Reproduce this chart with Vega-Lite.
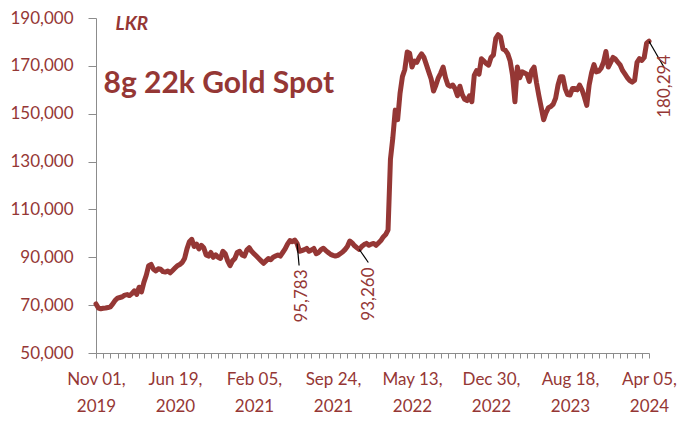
{
  "$schema": "https://vega.github.io/schema/vega-lite/v6.json",
  "width": 553,
  "height": 335,
  "autosize": "none",
  "padding": {"left": 96, "top": 18, "right": 34, "bottom": 68},
  "background": "white",
  "config": {"view": {"stroke": null}, "font": "Lato"},
  "data": {"values": [
    {"d":"2019-11-01","v":70500},{"d":"2019-11-08","v":68800},{"d":"2019-11-15","v":68500},{"d":"2019-11-22","v":68700},{"d":"2019-11-29","v":68800},
    {"d":"2019-12-06","v":69000},{"d":"2019-12-13","v":69300},{"d":"2019-12-20","v":70500},{"d":"2019-12-27","v":72000},
    {"d":"2020-01-03","v":72900},{"d":"2020-01-10","v":73200},{"d":"2020-01-17","v":73500},{"d":"2020-01-24","v":74200},{"d":"2020-01-31","v":74400},
    {"d":"2020-02-07","v":74000},{"d":"2020-02-14","v":74800},{"d":"2020-02-21","v":76000},{"d":"2020-02-28","v":74500},
    {"d":"2020-03-06","v":77500},{"d":"2020-03-13","v":75500},{"d":"2020-03-20","v":79500},{"d":"2020-03-27","v":82500},
    {"d":"2020-04-03","v":86500},{"d":"2020-04-10","v":87000},{"d":"2020-04-17","v":85000},{"d":"2020-04-24","v":84300},
    {"d":"2020-05-01","v":85200},{"d":"2020-05-08","v":85000},{"d":"2020-05-15","v":84000},{"d":"2020-05-22","v":83800},{"d":"2020-05-29","v":84300},
    {"d":"2020-06-05","v":83500},{"d":"2020-06-12","v":84500},{"d":"2020-06-19","v":85500},{"d":"2020-06-26","v":86500},
    {"d":"2020-07-03","v":87000},{"d":"2020-07-10","v":87800},{"d":"2020-07-17","v":89500},{"d":"2020-07-24","v":93500},{"d":"2020-07-31","v":96500},
    {"d":"2020-08-07","v":97500},{"d":"2020-08-14","v":94500},{"d":"2020-08-21","v":95500},{"d":"2020-08-28","v":93500},
    {"d":"2020-09-04","v":95000},{"d":"2020-09-11","v":94000},{"d":"2020-09-18","v":91000},{"d":"2020-09-25","v":90500},
    {"d":"2020-10-02","v":92000},{"d":"2020-10-09","v":90000},{"d":"2020-10-16","v":91000},{"d":"2020-10-23","v":90000},{"d":"2020-10-30","v":89500},
    {"d":"2020-11-06","v":92500},{"d":"2020-11-13","v":91500},{"d":"2020-11-20","v":88500},{"d":"2020-11-27","v":86500},
    {"d":"2020-12-04","v":88500},{"d":"2020-12-11","v":89500},{"d":"2020-12-18","v":92000},{"d":"2020-12-25","v":92500},
    {"d":"2021-01-01","v":91000},{"d":"2021-01-08","v":90500},{"d":"2021-01-15","v":93000},{"d":"2021-01-22","v":94000},{"d":"2021-01-29","v":92500},
    {"d":"2021-02-05","v":91500},{"d":"2021-02-12","v":90500},{"d":"2021-02-19","v":89500},{"d":"2021-02-26","v":88500},
    {"d":"2021-03-05","v":87500},{"d":"2021-03-12","v":88500},{"d":"2021-03-19","v":89500},{"d":"2021-03-26","v":89000},
    {"d":"2021-04-02","v":90000},{"d":"2021-04-09","v":90500},{"d":"2021-04-16","v":91000},{"d":"2021-04-23","v":90500},{"d":"2021-04-30","v":92000},
    {"d":"2021-05-07","v":93500},{"d":"2021-05-14","v":95500},{"d":"2021-05-21","v":97000},{"d":"2021-05-28","v":96500},
    {"d":"2021-06-04","v":97200},{"d":"2021-06-11","v":95783},{"d":"2021-06-18","v":92500},{"d":"2021-06-25","v":92800},
    {"d":"2021-07-02","v":93200},{"d":"2021-07-09","v":93700},{"d":"2021-07-16","v":92500},{"d":"2021-07-23","v":93000},{"d":"2021-07-30","v":93700},
    {"d":"2021-08-06","v":91500},{"d":"2021-08-13","v":92000},{"d":"2021-08-20","v":93200},{"d":"2021-08-27","v":93800},
    {"d":"2021-09-03","v":92800},{"d":"2021-09-10","v":92000},{"d":"2021-09-17","v":91200},{"d":"2021-09-24","v":90800},
    {"d":"2021-10-01","v":90500},{"d":"2021-10-08","v":90800},{"d":"2021-10-15","v":91500},{"d":"2021-10-22","v":92200},{"d":"2021-10-29","v":93200},
    {"d":"2021-11-05","v":94500},{"d":"2021-11-12","v":96800},{"d":"2021-11-19","v":96000},{"d":"2021-11-26","v":94800},
    {"d":"2021-12-03","v":94000},{"d":"2021-12-10","v":93260},{"d":"2021-12-17","v":94500},{"d":"2021-12-24","v":95300},{"d":"2021-12-31","v":95800},
    {"d":"2022-01-07","v":95000},{"d":"2022-01-14","v":95500},{"d":"2022-01-21","v":95800},{"d":"2022-01-28","v":95000},
    {"d":"2022-02-04","v":96000},{"d":"2022-02-11","v":97000},{"d":"2022-02-18","v":98500},{"d":"2022-02-25","v":99500},
    {"d":"2022-03-04","v":101500},{"d":"2022-03-11","v":131000},{"d":"2022-03-18","v":140000},{"d":"2022-03-25","v":151500},
    {"d":"2022-04-01","v":147500},{"d":"2022-04-08","v":158500},{"d":"2022-04-15","v":165500},{"d":"2022-04-22","v":168500},{"d":"2022-04-29","v":175800},
    {"d":"2022-05-06","v":175300},{"d":"2022-05-13","v":169500},{"d":"2022-05-20","v":172000},{"d":"2022-05-27","v":171500},
    {"d":"2022-06-03","v":173500},{"d":"2022-06-10","v":175000},{"d":"2022-06-17","v":173500},{"d":"2022-06-24","v":170500},
    {"d":"2022-07-01","v":167500},{"d":"2022-07-08","v":164500},{"d":"2022-07-15","v":159500},{"d":"2022-07-22","v":162000},{"d":"2022-07-29","v":165000},
    {"d":"2022-08-05","v":167000},{"d":"2022-08-12","v":169500},{"d":"2022-08-19","v":165000},{"d":"2022-08-26","v":162000},
    {"d":"2022-09-02","v":161500},{"d":"2022-09-09","v":162000},{"d":"2022-09-16","v":160500},{"d":"2022-09-23","v":157500},{"d":"2022-09-30","v":161500},
    {"d":"2022-10-07","v":158000},{"d":"2022-10-14","v":156000},{"d":"2022-10-21","v":155500},{"d":"2022-10-28","v":157500},
    {"d":"2022-11-04","v":155000},{"d":"2022-11-11","v":166000},{"d":"2022-11-18","v":168000},{"d":"2022-11-25","v":166500},
    {"d":"2022-12-02","v":173000},{"d":"2022-12-09","v":172000},{"d":"2022-12-16","v":171000},{"d":"2022-12-23","v":170300},{"d":"2022-12-30","v":173500},
    {"d":"2023-01-06","v":174500},{"d":"2023-01-13","v":181500},{"d":"2023-01-20","v":183000},{"d":"2023-01-27","v":182000},
    {"d":"2023-02-03","v":177000},{"d":"2023-02-10","v":176500},{"d":"2023-02-17","v":175000},{"d":"2023-02-24","v":172000},
    {"d":"2023-03-03","v":166000},{"d":"2023-03-10","v":155000},{"d":"2023-03-17","v":169500},{"d":"2023-03-24","v":165000},{"d":"2023-03-31","v":167500},
    {"d":"2023-04-07","v":167000},{"d":"2023-04-14","v":166500},{"d":"2023-04-21","v":163500},{"d":"2023-04-28","v":168000},
    {"d":"2023-05-05","v":169500},{"d":"2023-05-12","v":163000},{"d":"2023-05-19","v":157500},{"d":"2023-05-26","v":152500},
    {"d":"2023-06-02","v":147500},{"d":"2023-06-09","v":150500},{"d":"2023-06-16","v":152500},{"d":"2023-06-23","v":153000},{"d":"2023-06-30","v":154000},
    {"d":"2023-07-07","v":156500},{"d":"2023-07-14","v":162000},{"d":"2023-07-21","v":165500},{"d":"2023-07-28","v":165500},
    {"d":"2023-08-04","v":160500},{"d":"2023-08-11","v":158000},{"d":"2023-08-18","v":157800},{"d":"2023-08-25","v":160500},
    {"d":"2023-09-01","v":160500},{"d":"2023-09-08","v":160000},{"d":"2023-09-15","v":162000},{"d":"2023-09-22","v":160000},{"d":"2023-09-29","v":157000},
    {"d":"2023-10-06","v":153500},{"d":"2023-10-13","v":162000},{"d":"2023-10-20","v":167000},{"d":"2023-10-27","v":170500},
    {"d":"2023-11-03","v":167500},{"d":"2023-11-10","v":167800},{"d":"2023-11-17","v":169000},{"d":"2023-11-24","v":171500},
    {"d":"2023-12-01","v":176000},{"d":"2023-12-08","v":169500},{"d":"2023-12-15","v":171500},{"d":"2023-12-22","v":173500},{"d":"2023-12-29","v":172800},
    {"d":"2024-01-05","v":171500},{"d":"2024-01-12","v":170300},{"d":"2024-01-19","v":168000},{"d":"2024-01-26","v":166500},
    {"d":"2024-02-02","v":165000},{"d":"2024-02-09","v":163800},{"d":"2024-02-16","v":163200},{"d":"2024-02-23","v":164000},
    {"d":"2024-03-01","v":171500},{"d":"2024-03-08","v":173000},{"d":"2024-03-15","v":172300},{"d":"2024-03-22","v":173500},{"d":"2024-03-29","v":179500},
    {"d":"2024-04-05","v":180294}
  ]},
  "encoding": {
    "x": {
      "field": "d", "type": "temporal",
      "scale": {"type": "utc", "domain": [{"year": 2019, "month": 11, "date": 1, "utc": true}, {"year": 2024, "month": 4, "date": 5, "utc": true}]},
      "axis": {
        "values": [1572566400000,1574380800000,1576195200000,1578009600000,1579824000000,1581638400000,1583452800000,1585267200000,1587081600000,1588896000000,1590710400000,1592524800000,1594339200000,1596153600000,1597968000000,1599782400000,1601596800000,1603411200000,1605225600000,1607040000000,1608854400000,1610668800000,1612483200000,1614297600000,1616112000000,1617926400000,1619740800000,1621555200000,1623369600000,1625184000000,1626998400000,1628812800000,1630627200000,1632441600000,1634256000000,1636070400000,1637884800000,1639699200000,1641513600000,1643328000000,1645142400000,1646956800000,1648771200000,1650585600000,1652400000000,1654214400000,1656028800000,1657843200000,1659657600000,1661472000000,1663286400000,1665100800000,1666915200000,1668729600000,1670544000000,1672358400000,1674172800000,1675987200000,1677801600000,1679616000000,1681430400000,1683244800000,1685059200000,1686873600000,1688688000000,1690502400000,1692316800000,1694131200000,1695945600000,1697760000000,1699574400000,1701388800000,1703203200000,1705017600000,1706832000000,1708646400000,1710460800000,1712275200000],
        "labelExpr": "round((datum.value - 1572566400000) / 86400000) % 231 == 0 ? [utcFormat(datum.value, '%b %d,'), utcFormat(datum.value, '%Y')] : ''",
        "labelOverlap": false,
        "labelFlush": false,
        "labelBound": false,
        "grid": false,
        "tickSize": 5,
        "tickColor": "#8c8c8c",
        "domainColor": "#8c8c8c",
        "labelBaseline": "top",
        "labelPadding": 13,
        "labelLineHeight": 27,
        "labelFontSize": 17,
        "labelColor": "#953735",
        "labelFont": "Lato",
        "title": "8g 22k Gold Spot",
        "titleX": 7,
        "titleY": -261,
        "titleAlign": "left",
        "titleBaseline": "alphabetic",
        "titleAngle": 0,
        "titleFontSize": 30,
        "titleFontWeight": "bold",
        "titleColor": "#953735",
        "titleFont": "Lato"
      }
    },
    "y": {
      "field": "v", "type": "quantitative",
      "scale": {"domain": [50000, 190000], "nice": false, "zero": false},
      "axis": {
        "values": [50000, 70000, 90000, 110000, 130000, 150000, 170000, 190000],
        "format": ",d",
        "grid": false,
        "tickSize": 8,
        "tickColor": "#8c8c8c",
        "domainColor": "#8c8c8c",
        "labelPadding": 15,
        "labelFontSize": 17,
        "labelColor": "#953735",
        "labelFont": "Lato",
        "title": "LKR",
        "titleX": 19,
        "titleY": 11,
        "titleAlign": "left",
        "titleBaseline": "alphabetic",
        "titleAngle": 0,
        "titleFontSize": 19,
        "titleFontWeight": "bold",
        "titleFontStyle": "italic",
        "titleColor": "#953735",
        "titleFont": "Lato"
      }
    }
  },
  "layer": [
    {"mark": {"type": "line", "color": "#953735", "strokeWidth": 5, "strokeJoin": "round", "strokeCap": "round"}},
    {
      "transform": [{"filter": "datum.v == 95783"}],
      "mark": {"type": "rule", "color": "black", "strokeWidth": 1.2, "x2Offset": 2, "y2Offset": 22},
      "encoding": {"x2": {"field": "d"}, "y2": {"field": "v"}}
    },
    {
      "transform": [{"filter": "datum.v == 95783"}],
      "mark": {"type": "text", "angle": 270, "align": "right", "baseline": "middle", "xOffset": 5, "yOffset": 26, "fontSize": 17, "font": "Lato", "color": "#953735"},
      "encoding": {"text": {"field": "v", "type": "quantitative", "format": ",d"}}
    },
    {
      "transform": [{"filter": "datum.v == 93260"}],
      "mark": {"type": "rule", "color": "black", "strokeWidth": 1.2, "x2Offset": 9, "y2Offset": 13},
      "encoding": {"x2": {"field": "d"}, "y2": {"field": "v"}}
    },
    {
      "transform": [{"filter": "datum.v == 93260"}],
      "mark": {"type": "text", "angle": 270, "align": "right", "baseline": "middle", "xOffset": 10, "yOffset": 18, "fontSize": 17, "font": "Lato", "color": "#953735"},
      "encoding": {"text": {"field": "v", "type": "quantitative", "format": ",d"}}
    },
    {
      "transform": [{"filter": "datum.v == 180294"}],
      "mark": {"type": "rule", "color": "black", "strokeWidth": 1.2, "x2Offset": 15, "y2Offset": 26},
      "encoding": {"x2": {"field": "d"}, "y2": {"field": "v"}}
    },
    {
      "transform": [{"filter": "datum.v == 180294"}],
      "mark": {"type": "text", "angle": 270, "align": "center", "baseline": "middle", "xOffset": 16, "yOffset": 45, "fontSize": 17, "font": "Lato", "color": "#953735"},
      "encoding": {"text": {"field": "v", "type": "quantitative", "format": ",d"}}
    }
  ]
}
